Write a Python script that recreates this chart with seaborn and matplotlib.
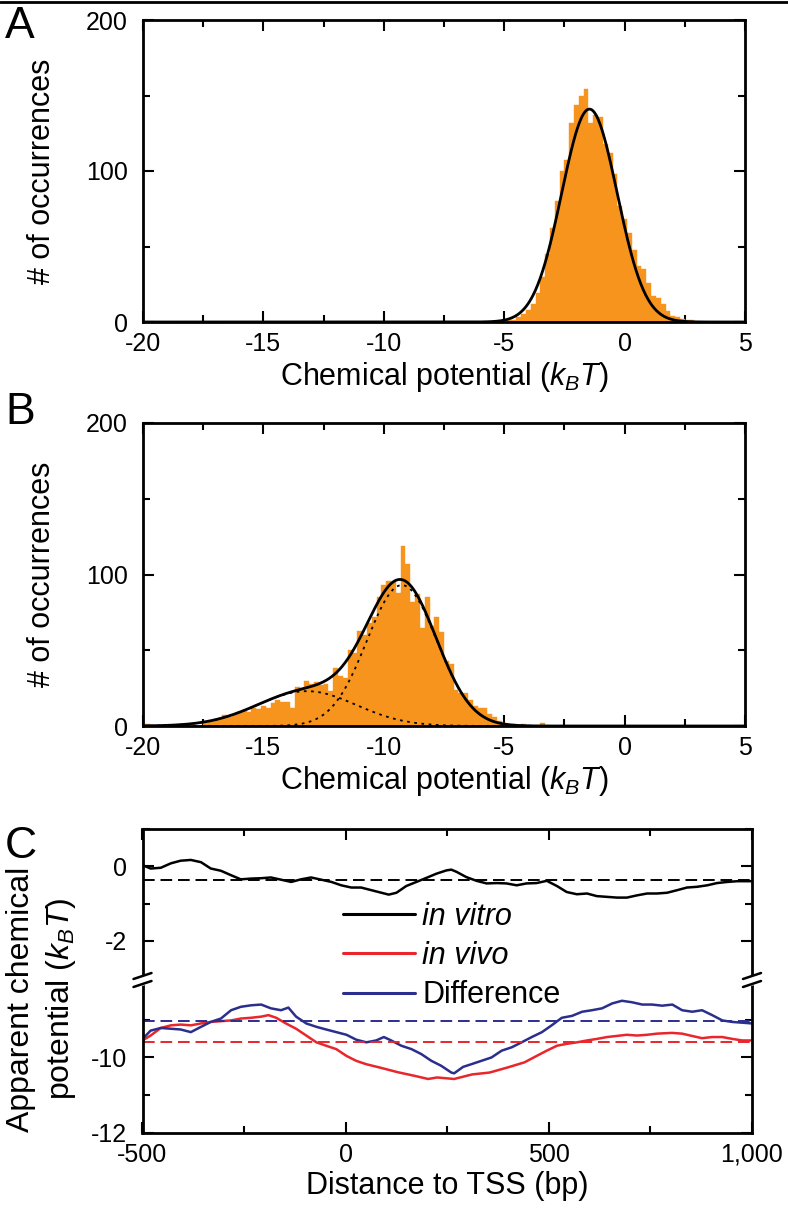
import numpy as np
import pandas as pd
import matplotlib
matplotlib.use("Agg")
import matplotlib.pyplot as plt
import seaborn as sns
from matplotlib.lines import Line2D
from matplotlib.ticker import MultipleLocator, FixedLocator, FuncFormatter

# ---------------- data ----------------
# Panel A histogram (bin centers, kBT) and counts
a_centers = [-4.8, -4.6, -4.4, -4.2, -4.0, -3.8, -3.6, -3.4, -3.2, -3.0, -2.8, -2.6, -2.4,
             -2.2, -2.0, -1.8, -1.6, -1.4, -1.2, -1.0, -0.8, -0.6, -0.4, -0.2, 0.0, 0.2,
             0.4, 0.6, 0.8, 1.0, 1.2, 1.4, 1.6, 1.8, 2.0, 2.2, 2.4, 2.6, 2.8]
a_counts = [1, 1, 3, 5, 8, 12, 19, 30, 45, 62, 80, 100, 107,
            132, 144, 150, 154, 132, 137, 136, 118, 112, 98, 77, 68, 59,
            48, 37, 35, 26, 17, 16, 12, 7, 4, 3, 2, 1, 1]
# Gaussian fit: amplitude, mean, sigma
a_fit = (141.0, -1.46, 1.15)

# Panel B histogram
b_centers = [-19.8, -19.6, -19.4, -19.2, -19.0, -18.8, -18.6, -18.4, -18.2, -18.0, -17.8,
             -17.6, -17.4, -17.2, -17.0, -16.8, -16.6, -16.4, -16.2, -16.0, -15.8, -15.6,
             -15.4, -15.2, -15.0, -14.8, -14.6, -14.4, -14.2, -14.0, -13.8, -13.6, -13.4,
             -13.2, -13.0, -12.8, -12.6, -12.4, -12.2, -12.0, -11.8, -11.6, -11.4, -11.2,
             -11.0, -10.8, -10.6, -10.4, -10.2, -10.0, -9.8, -9.6, -9.4, -9.2, -9.0, -8.8,
             -8.6, -8.4, -8.2, -8.0, -7.8, -7.6, -7.4, -7.2, -7.0, -6.8, -6.6, -6.4, -6.2,
             -6.0, -5.8, -5.6, -5.4, -5.2, -5.0, -4.8, -4.6, -4.4, -4.2, -4.0, -3.8, -3.6,
             -3.4, -3.2]
b_counts = [1, 0, 0, 0, 0, 0, 0, 1, 0, 0, 0,
            0, 2, 3, 4, 5, 7, 6, 7, 9, 10, 9,
            12, 11, 13, 12, 15, 17, 16, 16, 12, 26, 25,
            30, 28, 29, 27, 28, 23, 38, 33, 32, 50, 48,
            63, 60, 68, 72, 85, 93, 96, 95, 88, 119, 107, 82,
            87, 65, 85, 66, 72, 62, 43, 41, 24, 22, 22, 17, 13,
            12, 12, 8, 6, 3, 2, 1, 1, 0, 1, 0, 0, 0,
            2, 0]
# Two Gaussian components: amplitude, mean, sigma
b_fit_main = (93.0, -9.25, 1.45)
b_fit_tail = (23.0, -13.2, 2.05)

# Panel C: apparent chemical potential along distance to TSS (bp)
vitro_bp = [-500, -480, -455, -430, -406, -381, -356, -332, -307, -282, -258, -233, -208,
            -184, -159, -134, -110, -85, -60, -35, -11, 14, 38, 63, 88, 106, 125, 149, 174,
            199, 223, 248, 260, 273, 297, 322, 347, 372, 396, 421, 445, 470, 495, 520, 544,
            569, 594, 618, 643, 668, 692, 717, 742, 766, 791, 816, 840, 865, 890, 914, 939,
            964, 1000]
vitro_val = [0.03, -0.06, -0.04, 0.08, 0.15, 0.17, 0.11, -0.06, -0.12, -0.24, -0.35, -0.33, -0.32,
             -0.30, -0.36, -0.42, -0.35, -0.30, -0.36, -0.42, -0.51, -0.57, -0.57, -0.64, -0.71,
             -0.76, -0.71, -0.53, -0.42, -0.31, -0.20, -0.11, -0.09, -0.15, -0.29, -0.39, -0.46,
             -0.45, -0.46, -0.51, -0.46, -0.45, -0.39, -0.53, -0.69, -0.75, -0.73, -0.80, -0.82,
             -0.84, -0.84, -0.78, -0.73, -0.73, -0.71, -0.64, -0.57, -0.55, -0.51, -0.45, -0.42,
             -0.40, -0.40]
vivo_bp = [-500, -480, -455, -430, -406, -381, -356, -332, -307, -282, -258, -233, -208, -190,
           -171, -147, -122, -97, -72, -48, -23, 2, 26, 51, 85, 128, 171, 203, 225, 267, 311,
           354, 397, 440, 470, 495, 520, 544, 569, 594, 618, 643, 668, 692, 717, 742, 766, 803,
           828, 852, 877, 902, 927, 952, 976, 1000]
vivo_val = [-9.55, -9.42, -9.22, -9.15, -9.13, -9.15, -9.10, -9.06, -9.04, -9.02, -8.97, -8.95,
            -8.92, -8.88, -8.95, -9.10, -9.24, -9.42, -9.60, -9.69, -9.78, -9.96, -10.09, -10.18,
            -10.27, -10.39, -10.49, -10.57, -10.53, -10.57, -10.45, -10.40, -10.27, -10.13, -9.96,
            -9.82, -9.69, -9.64, -9.60, -9.55, -9.51, -9.46, -9.43, -9.40, -9.42, -9.40, -9.37,
            -9.35, -9.37, -9.43, -9.49, -9.46, -9.46, -9.51, -9.55, -9.55]
diff_bp = [-500, -480, -455, -430, -406, -381, -356, -332, -307, -282, -258, -233, -208, -184,
           -159, -141, -122, -97, -72, -48, -23, 2, 26, 51, 75, 94, 112, 137, 162, 186, 211, 235,
           260, 267, 289, 309, 334, 359, 384, 409, 433, 458, 483, 507, 532, 557, 582, 606, 631,
           656, 680, 705, 730, 754, 779, 804, 828, 853, 877, 902, 927, 951, 976, 1000]
diff_val = [-9.51, -9.29, -9.22, -9.24, -9.26, -9.33, -9.19, -9.06, -8.97, -8.75, -8.66, -8.62,
            -8.60, -8.70, -8.75, -8.68, -8.92, -9.10, -9.19, -9.26, -9.33, -9.40, -9.53, -9.60,
            -9.55, -9.46, -9.55, -9.69, -9.78, -9.91, -10.09, -10.22, -10.40, -10.42, -10.25,
            -10.18, -10.09, -10.00, -9.82, -9.73, -9.60, -9.46, -9.33, -9.15, -8.95, -8.90, -8.79,
            -8.75, -8.70, -8.57, -8.50, -8.54, -8.60, -8.60, -8.63, -8.60, -8.75, -8.79, -8.75,
            -8.88, -9.02, -9.06, -9.08, -9.10]
mean_vitro = -0.36
mean_vivo = -9.58
mean_diff = -9.04

series_labels = ["in vitro", "in vivo", "Difference"]

# ---------------- style ----------------
sns.set_style("ticks", rc={"axes.edgecolor": "black", "xtick.color": "black",
                           "ytick.color": "black", "text.color": "black",
                           "axes.labelcolor": "black"})
plt.rcParams['font.family'] = ['Liberation Sans', 'DejaVu Sans']
plt.rcParams['mathtext.fontset'] = 'custom'
plt.rcParams['mathtext.rm'] = 'Liberation Sans'
plt.rcParams['mathtext.it'] = 'Liberation Sans:italic'
plt.rcParams['axes.unicode_minus'] = False

ORANGE = "#F7941D"
RED = "#E8262B"
BLUE = "#2B2E8C"
W, H = 788, 1216
TICK_FS = 18
LABEL_FS = 22

fig = plt.figure(figsize=(W / 100, H / 100), dpi=100)


def fbox(left, top, right, bottom):
    return [left / W, 1 - bottom / H, (right - left) / W, (bottom - top) / H]


def style(ax):
    ax.tick_params(which='both', direction='in', top=True, right=True, width=1.5,
                   labelsize=TICK_FS, colors='black')
    ax.tick_params(which='major', length=8)
    ax.tick_params(which='minor', length=5)
    for s in ax.spines.values():
        s.set_linewidth(2)
        s.set_color('black')


def gauss(x, p):
    amp, mu, sig = p
    return amp * np.exp(-0.5 * ((x - mu) / sig) ** 2)


xs = np.linspace(-20, 5, 1000)


def draw_hist(ax, centers, counts):
    df = pd.DataFrame({"center": centers, "count": counts})
    edges = [c - 0.1 for c in centers] + [centers[-1] + 0.1]
    sns.histplot(data=df, x="center", weights="count", bins=edges, color=ORANGE,
                 alpha=1, edgecolor=ORANGE, linewidth=0.3, ax=ax)


def hist_axes(ax):
    ax.set_xlim(-20, 5)
    ax.set_ylim(0, 200)
    ax.xaxis.set_major_locator(MultipleLocator(5))
    ax.xaxis.set_minor_locator(MultipleLocator(2.5))
    ax.yaxis.set_major_locator(MultipleLocator(100))
    ax.yaxis.set_minor_locator(MultipleLocator(50))
    style(ax)
    ax.tick_params(axis='y', pad=11)
    ax.tick_params(axis='x', pad=7)
    ax.set_xlabel(r"Chemical potential ($k_BT$)", fontsize=LABEL_FS, labelpad=3)
    ax.set_ylabel("# of occurrences", fontsize=LABEL_FS, labelpad=21)


# ---------- Panel A ----------
axA = fig.add_axes(fbox(143, 20, 745, 322))
draw_hist(axA, a_centers, a_counts)
sns.lineplot(x=xs, y=gauss(xs, a_fit), color='black', lw=2, ax=axA)
hist_axes(axA)

# ---------- Panel B ----------
axB = fig.add_axes(fbox(143, 423, 745, 726))
draw_hist(axB, b_centers, b_counts)
sns.lineplot(x=xs, y=gauss(xs, b_fit_main), color='black', lw=1.3,
             linestyle=(0, (1.5, 2.5)), ax=axB)
sns.lineplot(x=xs, y=gauss(xs, b_fit_tail), color='black', lw=1.3,
             linestyle=(0, (1.5, 2.5)), ax=axB)
sns.lineplot(x=xs, y=gauss(xs, b_fit_main) + gauss(xs, b_fit_tail), color='black',
             lw=2, ax=axB)
hist_axes(axB)

# ---------- Panel C (broken y axis) ----------
axCt = fig.add_axes(fbox(142.5, 829, 752, 980))
axCb = fig.add_axes(fbox(142.5, 980, 752, 1133))

sns.lineplot(x=vitro_bp, y=vitro_val, color='black', lw=1.8, ax=axCt, estimator=None)
axCt.axhline(mean_vitro, color='black', lw=1.4, linestyle=(0, (6, 3)))
sns.lineplot(x=vivo_bp, y=vivo_val, color=RED, lw=1.8, ax=axCb, estimator=None)
sns.lineplot(x=diff_bp, y=diff_val, color=BLUE, lw=1.8, ax=axCb, estimator=None)
axCb.axhline(mean_diff, color=BLUE, lw=1.4, linestyle=(0, (6, 3)))
axCb.axhline(mean_vivo, color=RED, lw=1.4, linestyle=(0, (6, 3)))

for ax in (axCt, axCb):
    ax.set_xlim(-500, 1000)
    ax.xaxis.set_major_locator(MultipleLocator(500))
    ax.xaxis.set_minor_locator(MultipleLocator(250))
    style(ax)
    ax.tick_params(axis='y', pad=11)
    ax.set_ylabel("")
    ax.set_xlabel("")

axCt.set_ylim(-3.05, 1.0)
axCt.yaxis.set_major_locator(FixedLocator([-2, 0]))
axCt.yaxis.set_minor_locator(FixedLocator([-1, 1]))
axCt.spines['bottom'].set_visible(False)
axCt.tick_params(axis='x', which='both', bottom=False, labelbottom=False)

axCb.set_ylim(-12, -7.95)
axCb.yaxis.set_major_locator(FixedLocator([-12, -10]))
axCb.yaxis.set_minor_locator(FixedLocator([-11, -9]))
axCb.spines['top'].set_visible(False)
axCb.tick_params(axis='x', which='both', top=False, pad=7)
axCb.xaxis.set_major_formatter(FuncFormatter(lambda v, p: f"{int(v):,}"))
axCb.set_xlabel("Distance to TSS (bp)", fontsize=LABEL_FS, labelpad=3)

fig.text(42 / W, 1 - 999 / H, "Apparent chemical\npotential ($k_BT$)", rotation=90,
         ha='center', va='center', multialignment='center', fontsize=23,
         linespacing=1.3)

# break marks on both spines
for xb in (142.5, 752):
    fig.add_artist(Line2D([xb / W, xb / W], [1 - 977.5 / H, 1 - 983 / H],
                          transform=fig.transFigure, color='white', lw=4, zorder=5))
    for yb in (976, 984):
        fig.add_artist(Line2D([(xb - 9) / W, (xb + 9) / W],
                              [1 - (yb + 3) / H, 1 - (yb - 3) / H],
                              transform=fig.transFigure, color='black', lw=1.8, zorder=6))

handles = [Line2D([], [], color=c, lw=2.2) for c in ('black', RED, BLUE)]
leg = fig.legend(handles, series_labels, loc='upper left',
                 bbox_to_anchor=(343 / W, 1 - 902 / H), frameon=False,
                 fontsize=LABEL_FS, handlelength=2.35, handletextpad=0.25,
                 labelspacing=0.3, borderpad=0, borderaxespad=0)
for t in leg.get_texts()[:2]:
    t.set_fontstyle('italic')

# panel letters
for letter, ytop in (("A", 6), ("B", 392), ("C", 826)):
    fig.text(5 / W, 1 - ytop / H, letter, fontsize=32, ha='left', va='top')

# thin frame line at the top of the page
fig.add_artist(Line2D([0, 1], [1 - 1.5 / H, 1 - 1.5 / H], transform=fig.transFigure,
                      color='black', lw=2))

fig.savefig("out.png", dpi=100)
